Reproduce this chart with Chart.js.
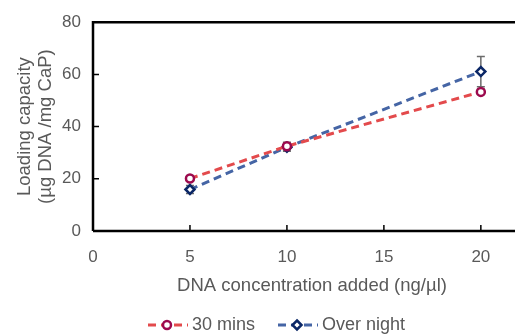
<!DOCTYPE html>
<html>
<head>
<meta charset="utf-8">
<script src="https://cdn.jsdelivr.net/npm/chart.js@4"></script>
<style>
    html, body { margin: 0; padding: 0; background: #fff; }
    #wrap { width: 515px; height: 334px; }
</style>
</head>
<body>
<div id="wrap"><canvas id="chart" width="515" height="334"></canvas></div>
<script>
// Chart data
const concentrations = [5, 10, 20];
const mins30 = [20.1, 32.5, 53.3];
const overnight = [15.9, 32.1, 61.1];
const err30 = [1, 1.5, 1];
const errOvernight = [1.5, 1.5, 5.8];
const xTickValues = [0, 5, 10, 15, 20];
const seriesNames = ['30 mins', 'Over night'];
const xTitle = 'DNA concentration added (ng/µl)';

const textColor = '#595959';
const fontFamily = '"Liberation Sans", Arial, sans-serif';

// Error bars drawn through the scales, behind the markers
const errorBars = {
    id: 'errorBars',
    beforeDatasetsDraw(chart) {
        const { ctx, scales: { x, y } } = chart;
        const errs = [err30, errOvernight];
        ctx.save();
        ctx.strokeStyle = '#6b6b6b';
        ctx.lineWidth = 1.5;
        chart.data.datasets.forEach((ds, i) => {
            ds.data.forEach((p, j) => {
                const px = x.getPixelForValue(p.x);
                const top = y.getPixelForValue(p.y + errs[i][j]);
                const bot = y.getPixelForValue(p.y - errs[i][j]);
                ctx.beginPath();
                ctx.moveTo(px, top);
                ctx.lineTo(px, bot);
                ctx.moveTo(px - 4, top);
                ctx.lineTo(px + 4, top);
                ctx.moveTo(px - 4, bot);
                ctx.lineTo(px + 4, bot);
                ctx.stroke();
            });
        });
        ctx.restore();
    }
};

// Frame, inward tick marks, x title and the legend
const frame = {
    id: 'frame',
    afterDraw(chart) {
        const { ctx, chartArea: a, scales: { x, y } } = chart;
        ctx.save();
        ctx.strokeStyle = '#000';
        ctx.lineWidth = 2.5;
        ctx.beginPath();
        ctx.moveTo(a.left, a.bottom);
        ctx.lineTo(a.left, a.top);
        ctx.lineTo(chart.width, a.top);
        ctx.moveTo(a.left, a.bottom);
        ctx.lineTo(chart.width, a.bottom);
        ctx.stroke();

        ctx.lineWidth = 1.5;
        ctx.beginPath();
        xTickValues.forEach(v => {
            const px = x.getPixelForValue(v);
            ctx.moveTo(px, a.bottom);
            ctx.lineTo(px, a.bottom - 6);
        });
        y.ticks.forEach(t => {
            const py = y.getPixelForValue(t.value);
            ctx.moveTo(a.left, py);
            ctx.lineTo(a.left + 6, py);
        });
        ctx.stroke();

        // x title: the original plot box is wider than the crop,
        // so the title sits right of the visible centre
        ctx.fillStyle = textColor;
        ctx.font = '18.5px ' + fontFamily;
        ctx.textAlign = 'center';
        ctx.textBaseline = 'middle';
        ctx.fillText(xTitle, 312, 286);
        ctx.textAlign = 'left';

        // legend
        const ly = 325;
        const items = [
            { x0: 148, ds: chart.data.datasets[0], name: seriesNames[0] },
            { x0: 278, ds: chart.data.datasets[1], name: seriesNames[1] }
        ];
        items.forEach(it => {
            const cx = it.x0 + 19;
            const r = it.ds.pointRadius;
            ctx.strokeStyle = it.ds.borderColor;
            ctx.lineWidth = 3;
            ctx.setLineDash([8, 5]);
            ctx.beginPath();
            ctx.moveTo(it.x0, ly);
            ctx.lineTo(it.x0 + 40, ly);
            ctx.stroke();
            ctx.setLineDash([]);

            ctx.fillStyle = '#fff';
            ctx.strokeStyle = it.ds.pointBorderColor;
            ctx.lineWidth = it.ds.pointBorderWidth;
            ctx.beginPath();
            if (it.ds.pointStyle === 'circle') {
                ctx.arc(cx, ly, r, 0, Math.PI * 2);
            } else {
                ctx.moveTo(cx, ly - r);
                ctx.lineTo(cx + r, ly);
                ctx.lineTo(cx, ly + r);
                ctx.lineTo(cx - r, ly);
                ctx.closePath();
            }
            ctx.fill();
            ctx.stroke();

            ctx.fillStyle = textColor;
            ctx.font = '18px ' + fontFamily;
            ctx.textBaseline = 'middle';
            ctx.fillText(it.name, it.x0 + 44, ly);
        });
        ctx.restore();
    }
};

const toPoints = vals => vals.map((v, i) => ({ x: concentrations[i], y: v }));

new Chart(document.getElementById('chart'), {
    type: 'line',
    data: {
        datasets: [
            {
                label: seriesNames[0],
                data: toPoints(mins30),
                borderColor: '#e34a4c',
                borderWidth: 3,
                borderDash: [8, 5],
                pointStyle: 'circle',
                pointRadius: 4,
                pointBorderWidth: 2.5,
                pointBorderColor: '#9c0a4e',
                pointBackgroundColor: '#fff'
            },
            {
                label: seriesNames[1],
                data: toPoints(overnight),
                borderColor: '#4565a5',
                borderWidth: 3,
                borderDash: [8, 5],
                pointStyle: 'rectRot',
                pointRadius: 4.5,
                pointBorderWidth: 2.5,
                pointBorderColor: '#0b2766',
                pointBackgroundColor: '#fff'
            }
        ]
    },
    options: {
        responsive: false,
        animation: false,
        layout: { padding: { top: 20, right: 0, left: 0, bottom: 0 } },
        plugins: {
            legend: { display: false },
            tooltip: { enabled: false }
        },
        scales: {
            x: {
                type: 'linear',
                min: 0,
                max: 21.4,
                afterBuildTicks: s => {
                    s.ticks = xTickValues.map(v => ({ value: v }));
                },
                afterFit: s => { s.height = 103; },
                grid: { display: false, drawTicks: false },
                border: { display: false },
                ticks: {
                    color: textColor,
                    padding: 16,
                    maxRotation: 0,
                    font: { family: fontFamily, size: 17 }
                }
            },
            y: {
                min: 0,
                max: 80,
                afterFit: s => { s.width = 93; },
                grid: { display: false, drawTicks: false },
                border: { display: false },
                ticks: {
                    stepSize: 20,
                    color: textColor,
                    padding: 12,
                    font: { family: fontFamily, size: 17 }
                },
                title: {
                    display: true,
                    text: ['Loading capacity', '(µg DNA /mg CaP)'],
                    color: textColor,
                    font: { family: fontFamily, size: 18.5, lineHeight: 1.1 },
                    padding: { top: 15, bottom: 0 }
                }
            }
        }
    },
    plugins: [errorBars, frame]
});
</script>
</body>
</html>
